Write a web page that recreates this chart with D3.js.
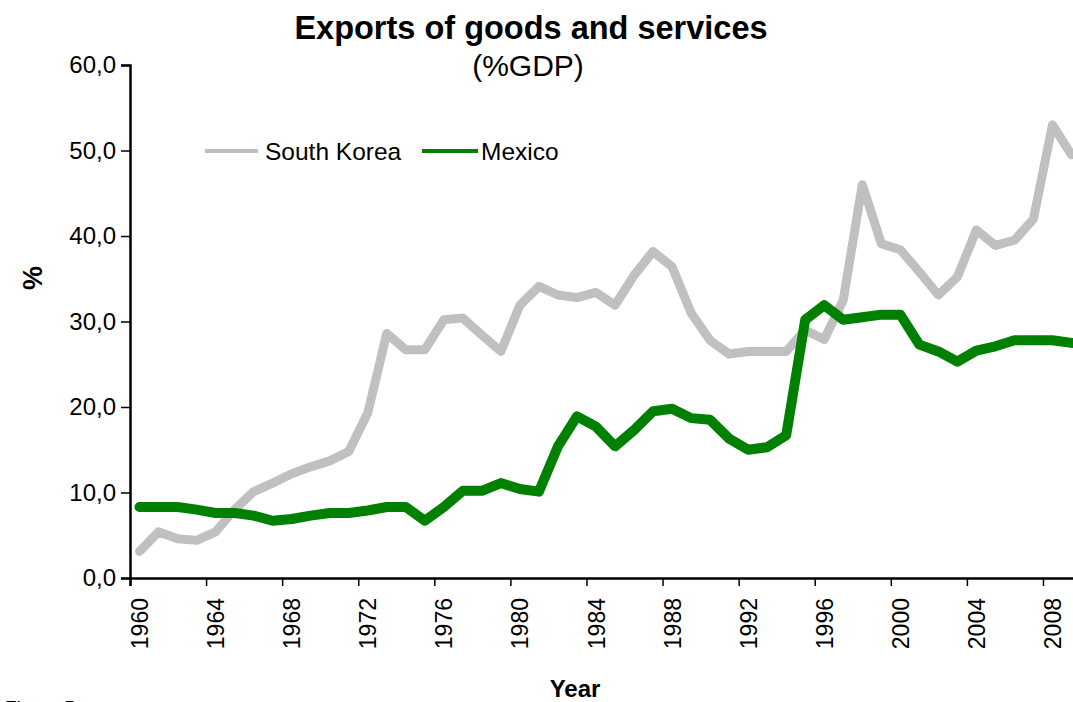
<!DOCTYPE html>
<html>
<head>
<meta charset="utf-8">
<script src="https://cdn.jsdelivr.net/npm/d3@7"></script>
<style>
  body { margin: 0; background: #fff; }
  svg { display: block; font-family: "Liberation Sans", Arial, sans-serif; }
</style>
</head>
<body>
<svg id="chart" width="1073" height="702"></svg>
<script>
// données (exportations en % du PIB)
const years = d3.range(1960, 2010)
const korea = [3.1, 5.4, 4.6, 4.4, 5.4, 8.0, 10.1, 11.1, 12.2, 13.0,
               13.7, 14.8, 19.3, 28.6, 26.7, 26.7, 30.2, 30.4, 28.4, 26.5,
               31.9, 34.1, 33.1, 32.8, 33.4, 31.9, 35.4, 38.2, 36.4, 31.0,
               27.8, 26.2, 26.5, 26.5, 26.5, 29.0, 27.9, 32.5, 46.0, 39.1,
               38.4, 35.8, 33.1, 35.2, 40.7, 38.9, 39.5, 42.0, 53.0, 49.5]
const mexico = [8.3, 8.3, 8.3, 8.0, 7.6, 7.6, 7.3, 6.7, 6.9, 7.3,
                7.6, 7.6, 7.9, 8.3, 8.3, 6.7, 8.3, 10.2, 10.2, 11.1,
                10.4, 10.1, 15.4, 18.9, 17.7, 15.4, 17.3, 19.5, 19.8, 18.7,
                18.5, 16.3, 15.0, 15.3, 16.7, 30.2, 31.9, 30.2, 30.5, 30.8,
                30.8, 27.3, 26.5, 25.3, 26.6, 27.1, 27.8, 27.8, 27.8, 27.5]
const yearTicks = d3.range(1960, 2010, 4)
const yTicks = [0, 10, 20, 30, 40, 50, 60]

const series = [
    {label: "South Korea", values: korea, color: "#c0c0c0", width: 9},
    {label: "Mexico", values: mexico, color: "#008000", width: 10}
]

const svg = d3.select("#chart")

// axes : une catégorie par année, traits de graduation entre les catégories
const x = d3.scaleLinear().domain([1960, 2010]).range([130, 1081])
const y = d3.scaleLinear().domain([0, 60]).range([578, 65])
const fmt = d => d3.format(".1f")(d).replace(".", ",")

const yAxis = svg.append("g")
    .attr("transform", "translate(130,0)")
    .call(d3.axisLeft(y).tickValues(yTicks).tickFormat(fmt).tickSize(9).tickPadding(5))
yAxis.select(".domain").attr("stroke", "#000").attr("stroke-width", 2.5)
yAxis.selectAll(".tick line").attr("stroke-width", 1.5)
yAxis.selectAll("text").style("font-size", "24px").attr("fill", "#000")

const xAxis = svg.append("g")
    .attr("transform", "translate(0,578)")
    .call(d3.axisBottom(x).tickValues(yearTicks).tickFormat(d => d).tickSizeOuter(0).tickSize(8))
xAxis.select(".domain").attr("stroke", "#000").attr("stroke-width", 2.5)
xAxis.selectAll(".tick line").attr("stroke-width", 1.5)
xAxis.selectAll("text")
    .style("font-size", "23px")
    .attr("fill", "#000")
    .attr("text-anchor", "end")
    .attr("transform", "rotate(-90)")
    .attr("x", -20)
    .attr("y", (x(1961) - x(1960)) / 2)
    .attr("dy", "0.35em")

// courbes
const line = d3.line()
    .x((d, i) => x(years[i] + 0.5))
    .y(d => y(d))

svg.selectAll("path.serie")
    .data(series)
    .join("path")
    .attr("class", "serie")
    .attr("d", d => line(d.values))
    .attr("fill", "none")
    .attr("stroke", d => d.color)
    .attr("stroke-width", d => d.width)
    .attr("stroke-linejoin", "round")
    .attr("stroke-linecap", "round")

// légende
const legendX = [205, 422]
const legend = svg.selectAll("g.legend")
    .data(series)
    .join("g")
    .attr("class", "legend")
    .attr("transform", (d, i) => `translate(${legendX[i]},151)`)
legend.append("line")
    .attr("x1", 0).attr("x2", (d, i) => i === 0 ? 53 : 56)
    .attr("stroke", d => d.color)
    .attr("stroke-width", 4)
legend.append("text")
    .attr("x", (d, i) => i === 0 ? 60 : 59)
    .attr("dy", "0.35em")
    .style("font-size", "24.5px")
    .text(d => d.label)

// titres
svg.append("text")
    .attr("x", 531).attr("y", 39)
    .attr("text-anchor", "middle")
    .style("font-size", "32.5px").style("font-weight", "bold")
    .text("Exports of goods and services")
svg.append("text")
    .attr("x", 528).attr("y", 76)
    .attr("text-anchor", "middle")
    .style("font-size", "30px")
    .text("(%GDP)")
svg.append("text")
    .attr("transform", "translate(42,278) rotate(-90)")
    .attr("text-anchor", "middle")
    .style("font-size", "27px").style("font-weight", "bold")
    .text("%")
svg.append("text")
    .attr("x", 575).attr("y", 697)
    .attr("text-anchor", "middle")
    .style("font-size", "24px").style("font-weight", "bold")
    .text("Year")
svg.append("text")
    .attr("x", 5).attr("y", 714)
    .style("font-size", "19px")
    .text("Figure 5")
</script>
</body>
</html>
